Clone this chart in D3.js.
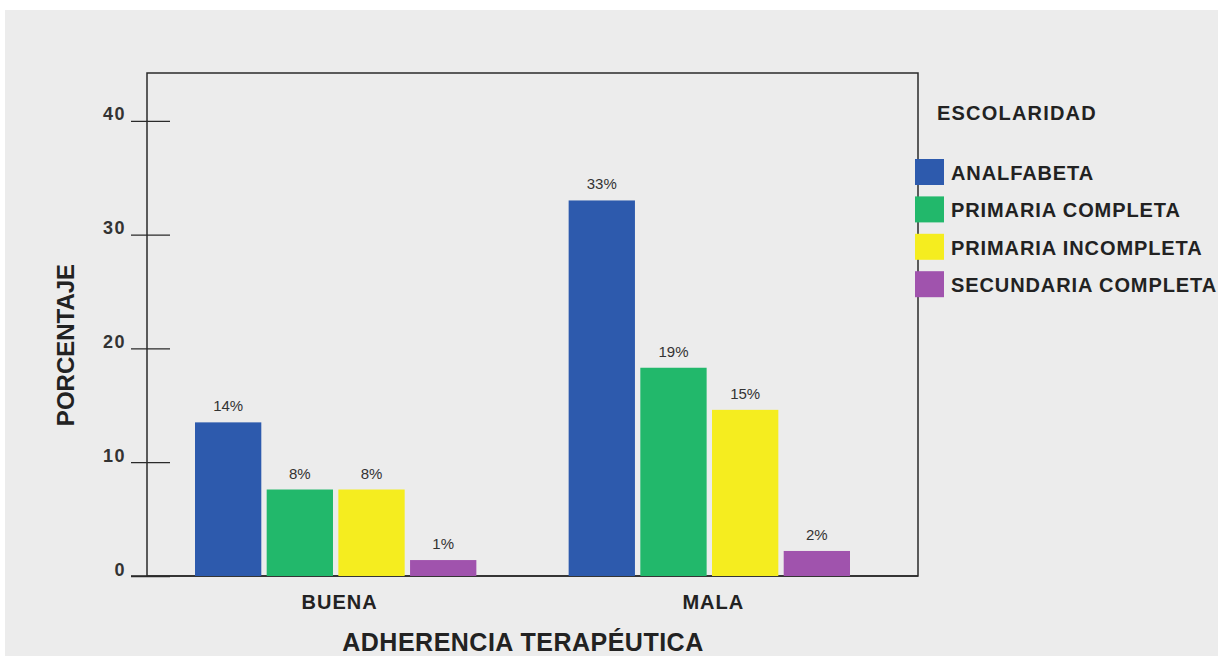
<!DOCTYPE html>
<html>
<head>
<meta charset="utf-8">
<script src="https://cdnjs.cloudflare.com/ajax/libs/d3/7.8.5/d3.min.js"></script>
<style>
  body { margin: 0; background: #ffffff; }
  text { font-family: "Liberation Sans", Arial, sans-serif; }
</style>
</head>
<body>
<div id="chart"></div>
<script>
// Data
var groups = ["BUENA", "MALA"];
var series = ["ANALFABETA", "PRIMARIA COMPLETA", "PRIMARIA INCOMPLETA", "SECUNDARIA COMPLETA"];
var buenaValues = [13.5, 7.6, 7.6, 1.4];
var malaValues = [33.0, 18.3, 14.6, 2.2];
var buenaLabels = ["14%", "8%", "8%", "1%"];
var malaLabels = ["33%", "19%", "15%", "2%"];
var yTicks = [0, 10, 20, 30, 40];
var colors = ["#2d5aad", "#22b86b", "#f5ed1f", "#a053ad"];

// Set dimensions
var svgWidth = 1223;
var svgHeight = 659;

var margin = { top: 73, right: 305, bottom: 83, left: 147 };
var width = svgWidth - margin.left - margin.right;
var height = svgHeight - margin.top - margin.bottom;

var svg = d3.select("#chart")
  .append("svg")
  .attr("width", svgWidth)
  .attr("height", svgHeight);

// gray panel behind everything
svg.append("rect")
  .attr("x", 5)
  .attr("y", 10)
  .attr("width", 1213)
  .attr("height", 646)
  .attr("fill", "#ececec");

var chartGroup = svg.append("g")
  .attr("transform", `translate(${margin.left}, ${margin.top})`);

// build rows from the arrays
var data = groups.map(function(g, i) {
  var vals = i === 0 ? buenaValues : malaValues;
  var labs = i === 0 ? buenaLabels : malaLabels;
  return {
    group: g,
    bars: series.map(function(s, j) {
      return { key: s, value: vals[j], label: labs[j], color: colors[j] };
    })
  };
});

// Scales
var x0 = d3.scaleBand()
  .domain(groups)
  .range([48, 703])
  .paddingInner(0.247)
  .paddingOuter(0);

var x1 = d3.scaleBand()
  .domain(series)
  .range([0, x0.bandwidth()])
  .paddingInner(0.075);

var yLinearScale = d3.scaleLinear()
  .domain([0, 44.2])
  .range([height, 0]);

// Frame
chartGroup.append("rect")
  .attr("x", 0)
  .attr("y", 0)
  .attr("width", width)
  .attr("height", height)
  .attr("fill", "none")
  .attr("stroke", "#2a2a2a")
  .attr("stroke-width", 1.5);

// Left axis with ticks crossing the axis line
var leftAxis = d3.axisLeft(yLinearScale)
  .tickValues(yTicks)
  .tickSize(0)
  .tickPadding(0);

var yAxis = chartGroup.append("g").call(leftAxis);
yAxis.select(".domain").remove();
yAxis.selectAll(".tick").append("line")
  .attr("x1", -16)
  .attr("x2", 23)
  .attr("stroke", "#2a2a2a")
  .attr("stroke-width", 1.3);
yAxis.selectAll(".tick text")
  .attr("x", -21)
  .attr("dy", "-1px")
  .attr("fill", "#333")
  .style("font-size", "18px")
  .style("letter-spacing", "1.5px")
  .style("font-weight", "bold")
  .style("font-family", "'Liberation Sans', Arial, sans-serif");

// x axis baseline
chartGroup.append("line")
  .attr("x1", -16)
  .attr("x2", width)
  .attr("y1", height)
  .attr("y2", height)
  .attr("stroke", "#2a2a2a")
  .attr("stroke-width", 1.5);

// Bars
var groupSel = chartGroup.selectAll(".grp")
  .data(data)
  .enter()
  .append("g")
  .attr("class", "grp")
  .attr("transform", d => `translate(${x0(d.group)}, 0)`);

groupSel.selectAll("rect")
  .data(d => d.bars)
  .enter()
  .append("rect")
  .attr("x", d => x1(d.key))
  .attr("y", d => yLinearScale(d.value))
  .attr("width", x1.bandwidth())
  .attr("height", d => height - yLinearScale(d.value))
  .attr("fill", d => d.color);

// value labels
groupSel.selectAll(".val")
  .data(d => d.bars)
  .enter()
  .append("text")
  .attr("class", "val")
  .attr("x", d => x1(d.key) + x1.bandwidth() / 2)
  .attr("y", d => yLinearScale(d.value) - 11)
  .attr("text-anchor", "middle")
  .attr("fill", "#333")
  .style("font-size", "15px")
  .text(d => d.label);

// group labels
chartGroup.selectAll(".glab")
  .data(groups)
  .enter()
  .append("text")
  .attr("class", "glab")
  .attr("x", d => x0(d) + x0.bandwidth() / 2 + 4)
  .attr("y", height + 33)
  .attr("text-anchor", "middle")
  .attr("fill", "#222")
  .style("font-size", "20px")
  .style("letter-spacing", "1px")
  .style("font-weight", "bold")
  .text(d => d);

// Axis titles
chartGroup.append("text")
  .attr("transform", "rotate(-90)")
  .attr("x", -(345 - margin.top))
  .attr("y", 65 - margin.left + 9)
  .attr("text-anchor", "middle")
  .attr("fill", "#222")
  .style("font-size", "24px")
  .style("font-weight", "bold")
  .text("PORCENTAJE");

chartGroup.append("text")
  .attr("x", 523 - margin.left)
  .attr("y", height + 75)
  .attr("text-anchor", "middle")
  .attr("fill", "#222")
  .style("font-size", "25px")
  .style("letter-spacing", "0.5px")
  .style("font-weight", "bold")
  .text("ADHERENCIA TERAPÉUTICA");

// Legend
var legend = svg.append("g")
  .attr("transform", "translate(915, 0)");

legend.append("text")
  .attr("x", 22)
  .attr("y", 120)
  .attr("fill", "#222")
  .style("font-size", "20px")
  .style("letter-spacing", "1.2px")
  .style("font-weight", "bold")
  .text("ESCOLARIDAD");

var items = legend.selectAll(".item")
  .data(series)
  .enter()
  .append("g")
  .attr("class", "item")
  .attr("transform", (d, i) => `translate(0, ${159 + i * 37.4})`);

items.append("rect")
  .attr("width", 29)
  .attr("height", 26)
  .attr("fill", (d, i) => colors[i]);

items.append("text")
  .attr("x", 36)
  .attr("y", 21)
  .attr("fill", "#222")
  .style("font-size", "20px")
  .style("letter-spacing", "0.9px")
  .style("font-weight", "bold")
  .text(d => d);
</script>
</body>
</html>
